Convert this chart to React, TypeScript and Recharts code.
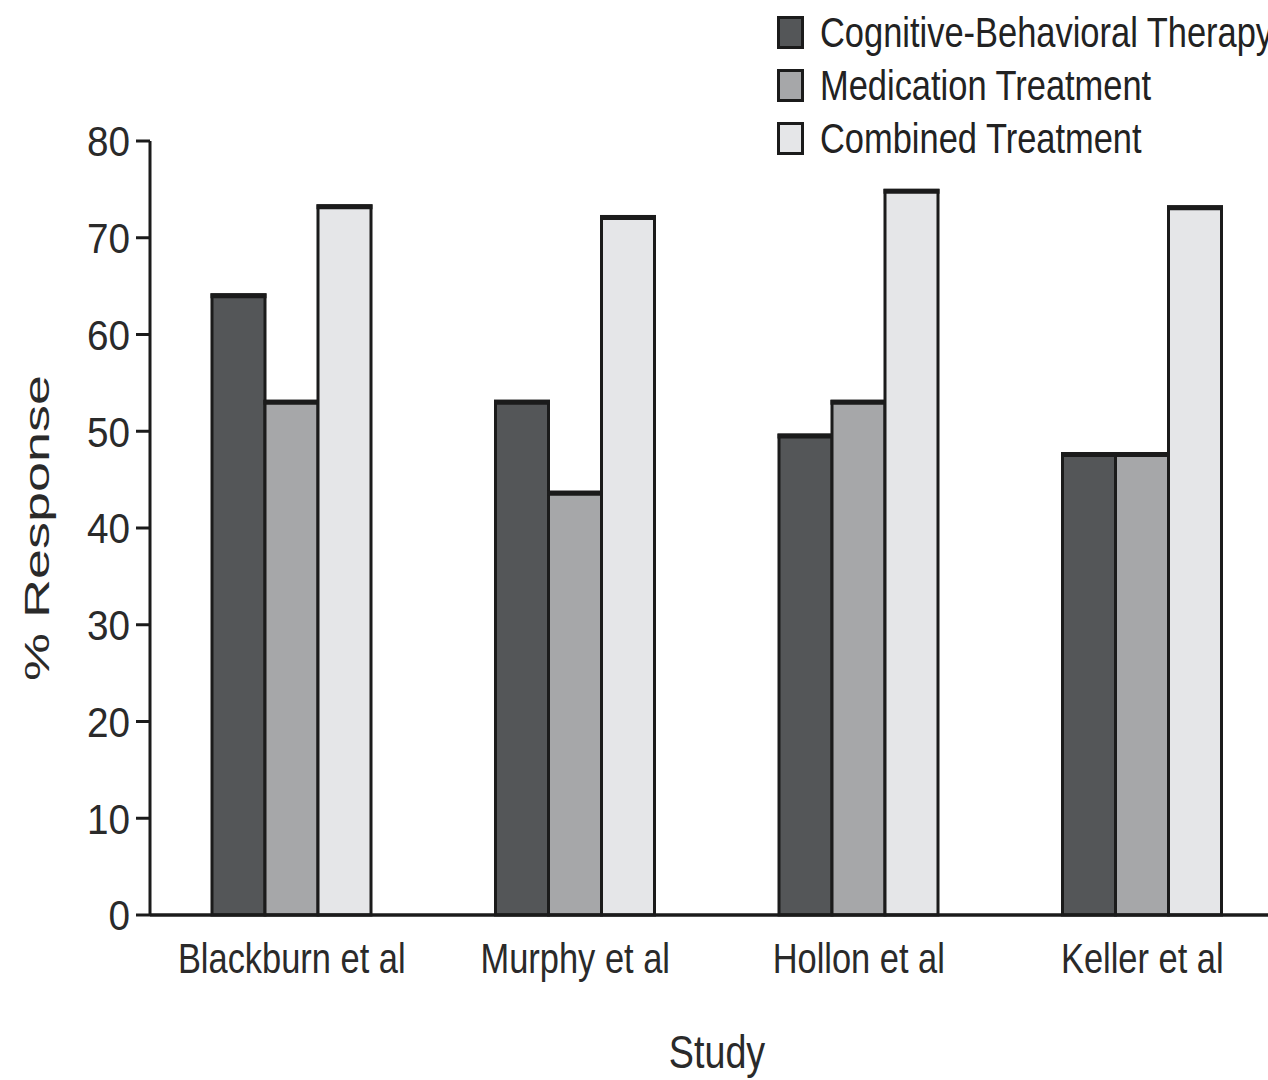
import React from "react";
import { BarChart, Bar, XAxis, YAxis } from "recharts";

const studies = ["Blackburn et al", "Murphy et al", "Hollon et al", "Keller et al"];
const cbtValues = [64.1, 53.1, 49.6, 47.7];
const medicationValues = [53.1, 43.7, 53.1, 47.7];
const combinedValues = [73.3, 72.2, 74.9, 73.2];
const yTicks = [0, 10, 20, 30, 40, 50, 60, 70, 80];

const seriesInfo = [
  { key: "cbt", name: "Cognitive-Behavioral Therapy", color: "#545658" },
  { key: "med", name: "Medication Treatment", color: "#a6a7a9" },
  { key: "comb", name: "Combined Treatment", color: "#e5e6e8" },
];

const data = studies.map((study, i) => ({
  study,
  cbt: cbtValues[i],
  med: medicationValues[i],
  comb: combinedValues[i],
}));

// no narrow face installed, so squeeze Liberation Sans instead
const SANS = "'Liberation Sans', Arial, sans-serif";
const NARROW_SCALE = 0.82;
const INK = "#1b1b1b";
const TEXT = "#2a2a2a";

// bar with a heavier top edge, like the printed figure
const EdgedBar = (props: any) => {
  const { x, y, width, height, fill } = props;
  if (!height) return null;
  return (
    <g>
      <rect x={x} y={y} width={width} height={height} fill={fill} stroke={INK} strokeWidth={3} />
      <line x1={x - 1.5} x2={x + width + 1.5} y1={y + 1} y2={y + 1} stroke={INK} strokeWidth={5} />
    </g>
  );
};

const NarrowTick = (props: any) => {
  const { x, y, payload, anchor, shift, squeeze = NARROW_SCALE, size = 42 } = props;
  return (
    <g transform={`translate(${x},${y})`}>
      <text
        transform={`scale(${squeeze},1)`}
        textAnchor={anchor}
        dy={shift}
        fontFamily={SANS}
        fontSize={size}
        fill={TEXT}
      >
        {payload.value}
      </text>
    </g>
  );
};

const YLabel = (props: any) => {
  const { viewBox } = props;
  const cy = viewBox.y + viewBox.height / 2;
  return (
    <text
      transform={`translate(49, ${cy}) rotate(-90) scale(1.5, 1)`}
      textAnchor="middle"
      fontFamily={SANS}
      fontSize={36}
      fill={TEXT}
    >
      % Response
    </text>
  );
};

const XLabel = (props: any) => {
  const { viewBox } = props;
  const cx = viewBox.x + viewBox.width / 2;
  const by = viewBox.y + 153;
  return (
    <text
      transform={`translate(${cx}, ${by}) scale(${NARROW_SCALE}, 1)`}
      textAnchor="middle"
      fontFamily={SANS}
      fontSize={46}
      fill={TEXT}
    >
      Study
    </text>
  );
};

const LegendBox = () => (
  <div style={{ position: "absolute", left: 777, top: 6, fontFamily: SANS, fontSize: 42, color: "#222" }}>
    {seriesInfo.map((s) => (
      <div key={s.key} style={{ display: "flex", alignItems: "center", height: 53 }}>
        <span
          style={{
            flexShrink: 0,
            display: "inline-block",
            width: 21,
            height: 27,
            background: s.color,
            border: `3px solid ${INK}`,
            marginRight: 16,
          }}
        />
        <span
          style={{
            whiteSpace: "nowrap",
            display: "inline-block",
            transform: `scaleX(${NARROW_SCALE})`,
            transformOrigin: "left center",
          }}
        >
          {s.name}
        </span>
      </div>
    ))}
  </div>
);

export default function App() {
  return (
    <div style={{ position: "fixed", left: 0, top: 0, width: 1290, height: 1080, background: "#fff", overflow: "hidden" }}>
      <BarChart
        width={1290}
        height={1080}
        data={data}
        margin={{ top: 141, right: 6, bottom: 0, left: 0 }}
        barGap={0}
        barSize={53}
      >
        <XAxis
          dataKey="study"
          height={165}
          axisLine={{ stroke: INK, strokeWidth: 3.5 }}
          tickLine={false}
          tick={<NarrowTick anchor="middle" shift="0.71em" />}
          tickMargin={22}
          label={<XLabel />}
        />
        <YAxis
          width={150}
          domain={[0, 80]}
          ticks={yTicks}
          interval={0}
          axisLine={{ stroke: INK, strokeWidth: 3 }}
          tickLine={{ stroke: INK, strokeWidth: 3 }}
          tickSize={14}
          tickMargin={6}
          tick={<NarrowTick anchor="end" shift="0.36em" squeeze={0.9} size={43} />}
          label={<YLabel />}
        />
        {seriesInfo.map((s) => (
          <Bar
            key={s.key}
            dataKey={s.key}
            name={s.name}
            fill={s.color}
            shape={<EdgedBar />}
            isAnimationActive={false}
          />
        ))}
      </BarChart>
      <LegendBox />
    </div>
  );
}
